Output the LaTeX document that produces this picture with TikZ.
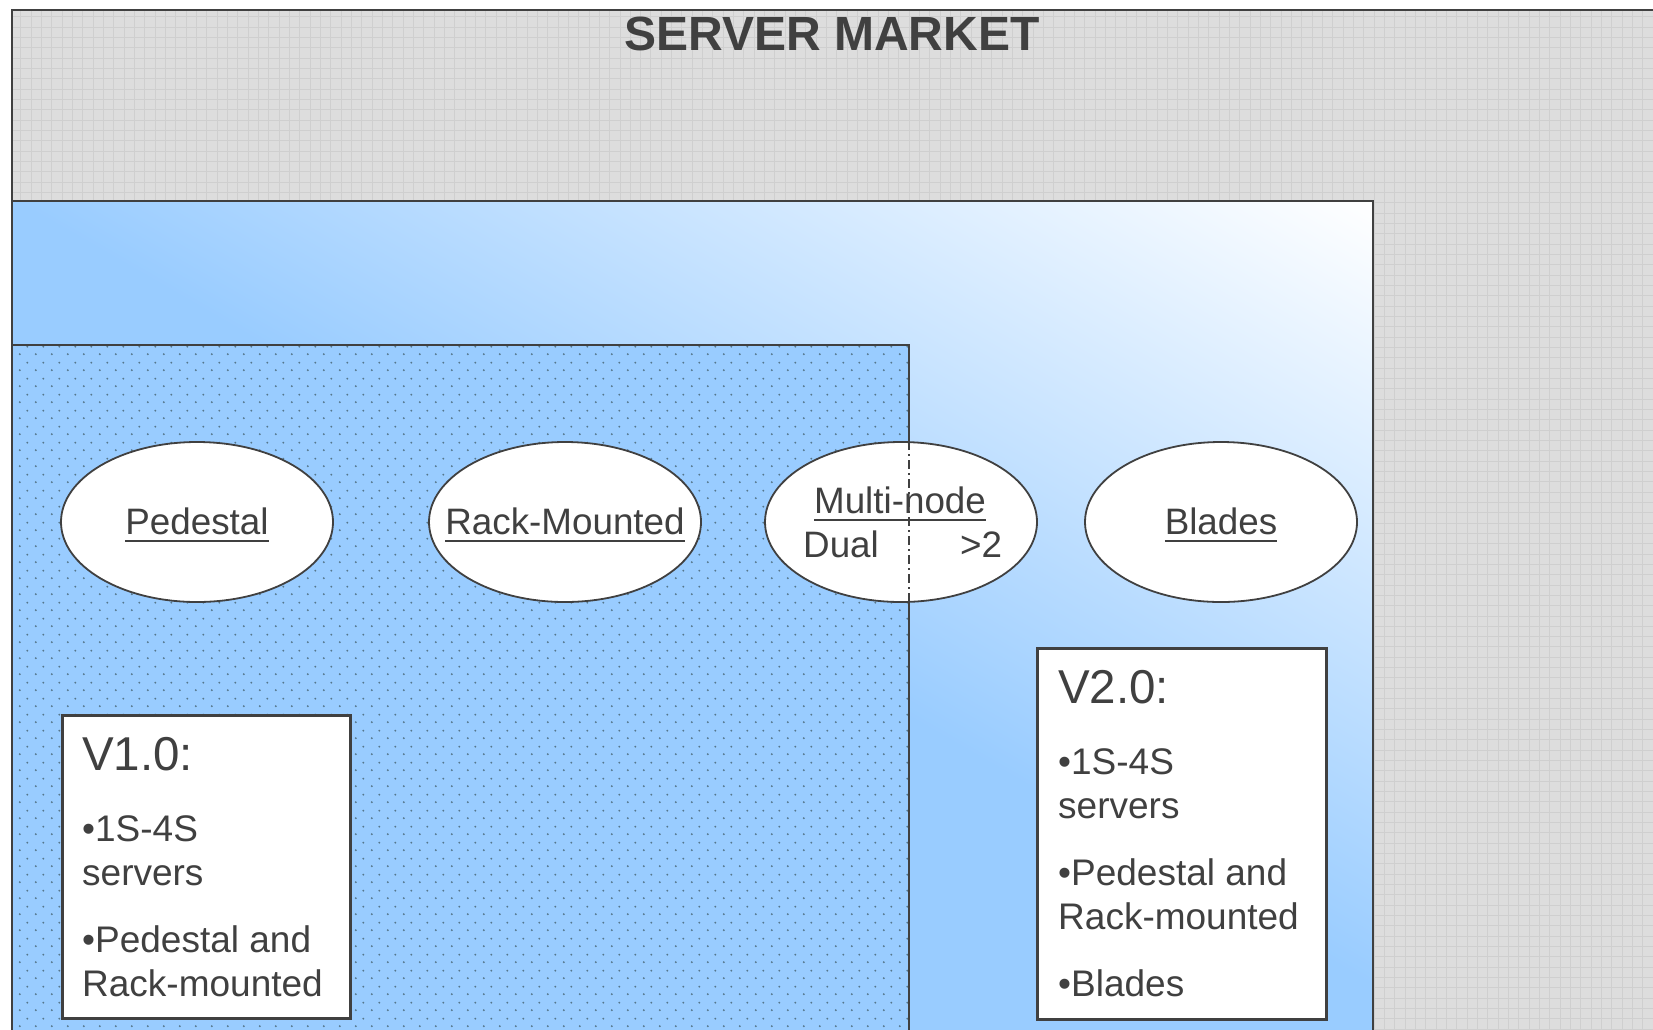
\documentclass[tikz,border=0pt]{standalone}
\usepackage{fontspec}
\setmainfont{Liberation Sans}
\usetikzlibrary{shapes.geometric,patterns,positioning}

\definecolor{srvblue}{HTML}{99CCFF}
\definecolor{srvgray}{HTML}{DDDDDD}
\definecolor{gridgray}{HTML}{CFCFCF}
\definecolor{inkgray}{HTML}{404040}
\definecolor{dotgray}{HTML}{56778C}

\pgfdeclarepatternformonly{bluedots}{\pgfqpoint{0pt}{0pt}}{\pgfqpoint{16pt}{16pt}}{\pgfqpoint{16pt}{16pt}}{%
  \pgfpathcircle{\pgfqpoint{4pt}{4pt}}{1.1pt}%
  \pgfpathcircle{\pgfqpoint{12pt}{12pt}}{1.1pt}%
  \pgfusepath{fill}}
\pgfdeclarepatternformonly{graygrid}{\pgfqpoint{-1pt}{-1pt}}{\pgfqpoint{11pt}{11pt}}{\pgfqpoint{10.33pt}{10.33pt}}{%
  \pgfsetlinewidth{0.6pt}%
  \pgfpathmoveto{\pgfqpoint{0pt}{0pt}}\pgfpathlineto{\pgfqpoint{10.33pt}{0pt}}%
  \pgfpathmoveto{\pgfqpoint{0pt}{0pt}}\pgfpathlineto{\pgfqpoint{0pt}{10.33pt}}%
  \pgfusepath{stroke}}

\newsavebox\ulbox
\newcommand{\ulword}[1]{\sbox\ulbox{#1}\rlap{\raisebox{-8.2pt}{\rule{\wd\ulbox}{2.4pt}}}\usebox\ulbox}

\begin{document}
\begin{tikzpicture}[x=1pt,y=-1pt,every node/.style={inkgray},
    frame/.style={draw=inkgray,line width=1.8pt},
    market/.style={ellipse,draw=inkgray,fill=white,line width=1.8pt,
      minimum width=272pt,minimum height=160pt,inner xsep=-30pt,inner ysep=0pt,
      text height=27pt,text depth=3pt,font=\fontsize{36.8}{44}\selectfont},
    mtext/.style={inner sep=0pt,font=\fontsize{36.8}{44}\selectfont},
    infobox/.style={draw=inkgray,fill=white,line width=2.6pt,anchor=north west,inner sep=0pt},
    infotext/.style={align=left,inner sep=0pt,font=\fontsize{37}{44}\selectfont}]
    \useasboundingbox (0,0) rectangle (1653,1029);

    \fill[srvgray] (12,10) rectangle (1700,1080);
    \fill[pattern=graygrid,pattern color=gridgray] (12,10) rectangle (1700,1080);
    \draw[frame] (12,10) rectangle (1700,1080);
    \node[font=\bfseries\fontsize{48}{58}\selectfont,anchor=base] (title) at (832,50) {SERVER MARKET};

    \fill[srvblue] (12,201) rectangle (1373,1080);
    \begin{scope}
    	\clip (12,201) rectangle (1373,1080);
    	\begin{scope}[transform canvas={shift={(1373,201)},rotate=-30}]
    		\shade[top color=white,bottom color=srvblue] (-2500,0) rectangle (2500,680);
    	\end{scope}
    \end{scope}
    \draw[frame] (12,201) rectangle (1373,1080);

    \fill[srvblue] (12,345) rectangle (909,1080);
    \fill[pattern=bluedots,pattern color=dotgray] (12,345) rectangle (909,1080);
    \draw[frame] (12,345) rectangle (909,1080);
    \coordinate (split) at (909,345);

    \node[market] (pedestal) at (197,522) {\ulword{Pedestal}};
    \node[market] (rack) at (565,522) {\ulword{Rack-Mounted}};
    \node[market] (multi) at (901,522) {};
    \node[market] (blades) at (1221,522) {\ulword{Blades}};

    \draw[inkgray,line width=1.5pt,dash pattern=on 9pt off 4pt on 2pt off 4pt]
    	(multi.north -| split) -- (multi.south -| split);
    \node[mtext,anchor=base] (multihead) at (900,513) {\ulword{Multi-node}};
    \node[mtext,anchor=base west] (dual) at (803,557) {Dual};
    \node[mtext,anchor=base west] (more) at (960,557) {>2};

    \node[infobox,minimum width=288pt,minimum height=303pt] (v1box) at (61,714) {};
    \node[infotext,anchor=north west,below right=23pt and 21pt of v1box.north west] (v1text)
    	{{\fontsize{47.5}{57}\selectfont V1.0:}\\[27pt]
    	•1S-4S\\ servers\\[23pt]
    	•Pedestal and\\ Rack-mounted};

    \node[infobox,minimum width=289pt,minimum height=371pt] (v2box) at (1036,647) {};
    \node[infotext,anchor=north west,below right=23pt and 22pt of v2box.north west] (v2text)
    	{{\fontsize{47.5}{57}\selectfont V2.0:}\\[27pt]
    	•1S-4S\\ servers\\[23pt]
    	•Pedestal and\\ Rack-mounted\\[23pt]
    	•Blades};
\end{tikzpicture}
\end{document}
